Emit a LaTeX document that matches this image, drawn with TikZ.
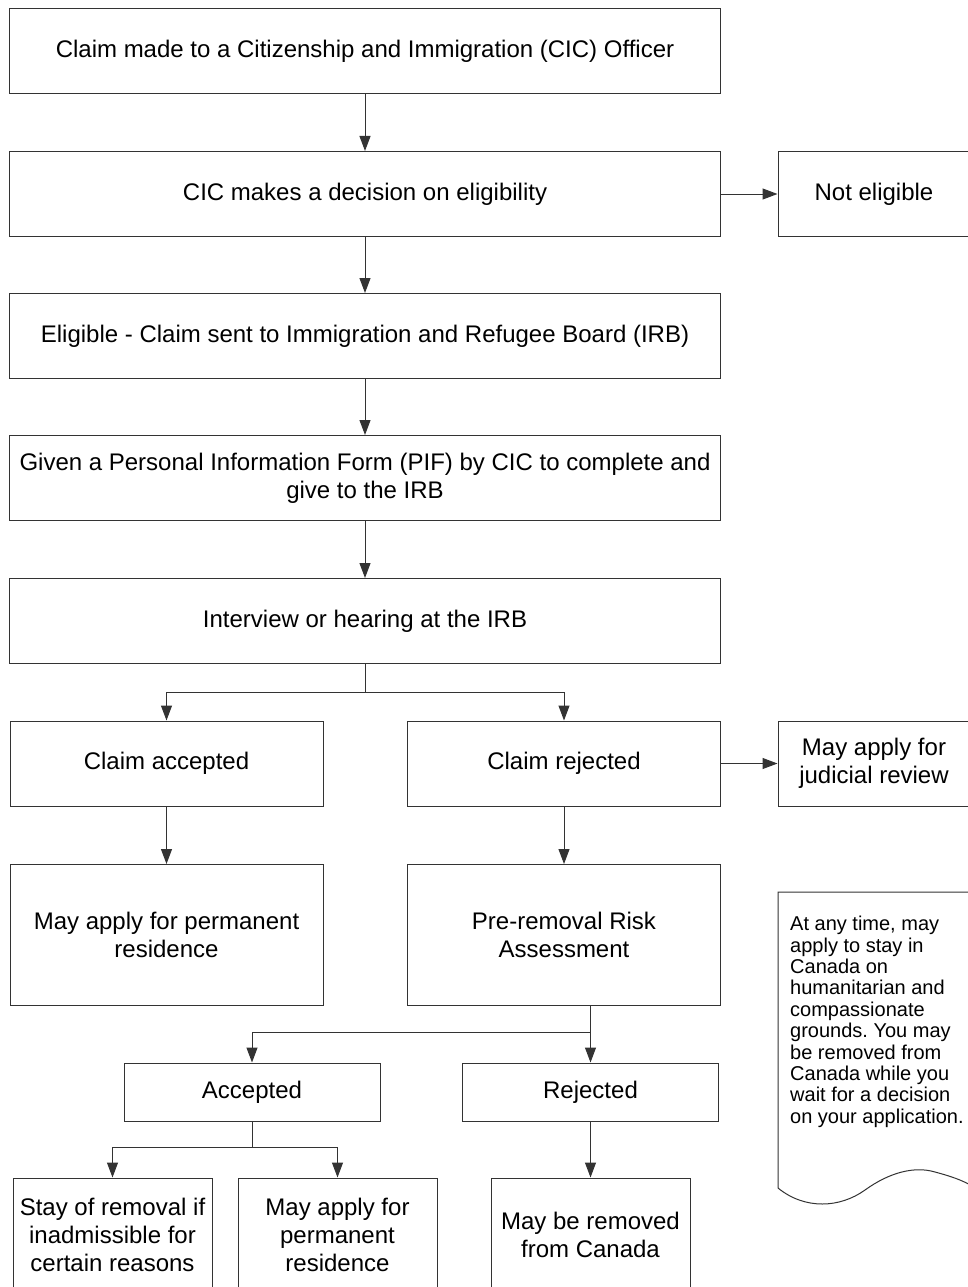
\documentclass[tikz,border=0pt]{standalone}
\usepackage{fontspec}
\setmainfont{Liberation Sans}
\usetikzlibrary{arrows.meta}
\usetikzlibrary{positioning}
\usetikzlibrary{scopes}

\begin{document}
\begin{tikzpicture}
  [x=1pt, y=-1pt,
   box/.style={shape=rectangle, draw=black!80, line width=1pt, inner sep=2pt,
         align=center, font=\fontsize{24}{28}\selectfont},
   wide/.style={minimum width=711pt, minimum height=85pt},
   half/.style={minimum width=313pt, minimum height=85pt},
   tall/.style={minimum width=313pt, minimum height=141pt},
   side/.style={minimum width=192pt, minimum height=85pt},
   small/.style={minimum width=256pt, minimum height=58pt},
   leaf/.style={minimum width=199pt, minimum height=114pt},
   >={Triangle[length=15pt, width=11pt]}
  ]
 \useasboundingbox (0,0) rectangle (967,1287);

 \path
   (365, 51) node (claim)      [box, wide] {Claim made to a Citizenship and Immigration (CIC) Officer}
   ++(0, 143) node (decide)    [box, wide] {CIC makes a decision on eligibility}
   {[current point is local] % side exit, from decision
      ++(509, 0) node (noelig) [box, side] {Not eligible}
   }
   ++(0, 142) node (eligible)  [box, wide] {Eligible - Claim sent to Immigration and Refugee Board (IRB)}
   ++(0, 142) node (pif)       [box, wide] {Given a Personal Information Form (PIF) by CIC to complete and\\ give to the IRB}
   ++(0, 143) node (interview) [box, wide] {Interview or hearing at the IRB}
   {[current point is local] % accepted branch, from interview
      ++(-198.5, 142.5) node (claimacc) [box, half] {Claim accepted}
      ++(0, 171.5)      node (permres)  [box, tall] {May apply for permanent\\ residence}
   }
   {[current point is local] % rejected branch, from interview
      ++(199, 142.5) node (claimrej) [box, half] {Claim rejected}
      {[current point is local]
         ++(310, 0) node (judicial) [box, side] {May apply for\\ judicial review}
      }
      ++(0, 171.5) node (prra) [box, tall] {Pre-removal Risk\\ Assessment}
      {[current point is local] % risk assessment accepted
         ++(-312, 157) node (acc2) [box, small] {Accepted}
         {[current point is local]
            ++(-139.5, 143) node (stay) [box, leaf] {Stay of removal if\\ inadmissible for\\ certain reasons}
         }
         ++(85.5, 143) node (permres2) [box, leaf] {May apply for\\ permanent\\ residence}
      }
      {[current point is local] % risk assessment rejected
         ++(26.5, 157) node (rej2)    [box, small] {Rejected}
         ++(0, 143)    node (removed) [box, leaf] {May be removed\\ from Canada}
      }
   }
   ;

 % side note with wavy foot
 \draw [draw=black!80, line width=1pt]
   (970, 892) -- (778, 892) -- (778, 1188)
   .. controls (805, 1210) and (840, 1208) .. (865, 1190)
   .. controls (890, 1172) and (915, 1166) .. (935, 1172)
   .. controls (950, 1176) and (962, 1180) .. (972, 1186);
 \node (note) [anchor=north west, inner sep=0pt, align=left,
       font=\fontsize{20}{21.4}\selectfont\frenchspacing] at (790, 916)
   {At any time, may\\ apply to stay in\\ Canada on\\ humanitarian and\\ compassionate\\
    grounds. You may\\ be removed from\\ Canada while you\\ wait for a decision\\ on your application.};

 \path (interview.south) ++(0, 28) coordinate (split1);
 \path (rej2.north) ++(0, -30) coordinate (split2);
 \path (acc2.south) ++(0, 26) coordinate (split3);

   \begin{scope}[line width=1pt, draw=black!80]
   \draw [->] (claim) -- (decide);
   \draw [->] (decide) -- (noelig);
   \draw [->] (decide) -- (eligible);
   \draw [->] (eligible) -- (pif);
   \draw [->] (pif) -- (interview);
   \draw (interview) -- (split1);
   \draw [->] (split1) -| (claimacc);
   \draw [->] (split1) -| (claimrej);
   \draw [->] (claimrej) -- (judicial);
   \draw [->] (claimacc) -- (permres);
   \draw [->] (claimrej) -- (prra);
   \draw (prra.south -| split2) -- (split2);
   \draw [->] (split2) -- (rej2);
   \draw [->] (split2) -| (acc2);
   \draw (acc2) -- (split3);
   \draw [->] (split3) -| (stay);
   \draw [->] (split3) -| (permres2);
   \draw [->] (rej2) -- (removed);
   \end{scope}

\end{tikzpicture}
\end{document}
